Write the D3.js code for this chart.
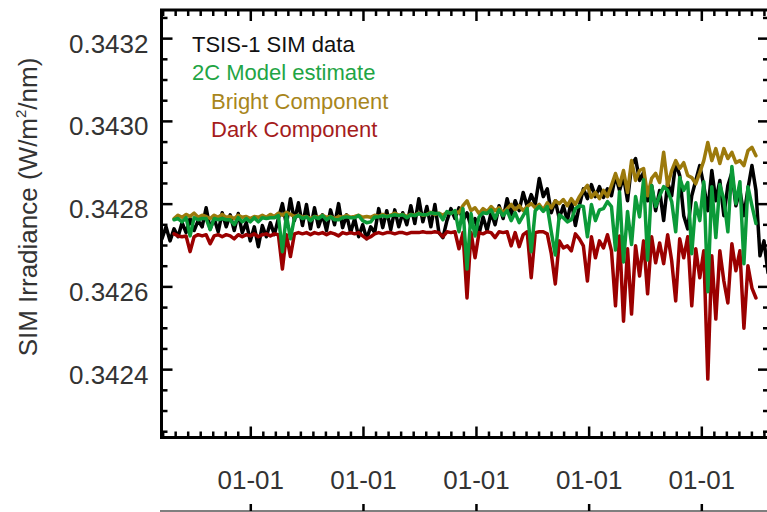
<!DOCTYPE html>
<html>
<head>
<meta charset="utf-8">
<script src="https://cdn.jsdelivr.net/npm/d3@7"></script>
<style>
  html, body { margin: 0; padding: 0; background: #fff; }
  svg { display: block; font-family: "Liberation Sans", Arial, Helvetica, sans-serif; }
</style>
</head>
<body>
<svg id="chart" width="767" height="512"></svg>
<script>
// ---- data -------------------------------------------------------------
// Samples are spaced stepDays apart, starting at startDate.
const startDate = Date.UTC(2018, 2, 21);
const stepDays = 13;

// TSIS-1 SIM irradiance (W/m^2/nm)
const tsisData = [
  0.342715, 0.342744, 0.342710, 0.342739, 0.342720, 0.342754, 0.342730, 0.342764, 0.342735, 0.342759,
  0.342744, 0.342790, 0.342739, 0.342764, 0.342732, 0.342778, 0.342744, 0.342773, 0.342735, 0.342776,
  0.342730, 0.342754, 0.342710, 0.342744, 0.342696, 0.342747, 0.342720, 0.342754, 0.342725, 0.342764,
  0.342800, 0.342749, 0.342812, 0.342759, 0.342802, 0.342747, 0.342798, 0.342739, 0.342790, 0.342744,
  0.342773, 0.342735, 0.342785, 0.342749, 0.342800, 0.342742, 0.342773, 0.342730, 0.342764, 0.342720,
  0.342749, 0.342715, 0.342744, 0.342730, 0.342788, 0.342742, 0.342783, 0.342737, 0.342785, 0.342744,
  0.342778, 0.342749, 0.342795, 0.342752, 0.342812, 0.342756, 0.342793, 0.342744, 0.342798, 0.342730,
  0.342718, 0.342759, 0.342788, 0.342764, 0.342790, 0.342759, 0.342778, 0.342744, 0.342764, 0.342727,
  0.342768, 0.342735, 0.342778, 0.342749, 0.342795, 0.342764, 0.342812, 0.342773, 0.342807, 0.342783,
  0.342827, 0.342793, 0.342822, 0.342798, 0.342861, 0.342817, 0.342836, 0.342778, 0.342807, 0.342764,
  0.342795, 0.342759, 0.342807, 0.342747, 0.342795, 0.342836, 0.342812, 0.342846, 0.342817, 0.342841,
  0.342815, 0.342836, 0.342819, 0.342868, 0.342832, 0.342865, 0.342807, 0.342892, 0.342909, 0.342856,
  0.342875, 0.342807, 0.342844, 0.342783, 0.342832, 0.342759, 0.342851, 0.342819, 0.342899, 0.342868,
  0.342771, 0.342739, 0.342819, 0.342856, 0.342892, 0.342844, 0.342783, 0.342880, 0.342807, 0.342856,
  0.342771, 0.342844, 0.342875, 0.342795, 0.342832, 0.342771, 0.342836, 0.342892, 0.342832, 0.342674,
  0.342710, 0.342633
];

// The two-component model begins at this sample index
const modelStart = 3;

// 2C model estimate
const modelEstimate = [
  0.342761, 0.342764, 0.342756, 0.342766, 0.342722, 0.342766, 0.342761, 0.342764, 0.342764, 0.342737,
  0.342764, 0.342761, 0.342764, 0.342761, 0.342761, 0.342749, 0.342766, 0.342756, 0.342764, 0.342756,
  0.342766, 0.342756, 0.342766, 0.342764, 0.342766, 0.342766, 0.342771, 0.342684, 0.342773, 0.342715,
  0.342766, 0.342771, 0.342764, 0.342768, 0.342759, 0.342768, 0.342764, 0.342771, 0.342761, 0.342768,
  0.342761, 0.342761, 0.342766, 0.342768, 0.342766, 0.342766, 0.342771, 0.342759, 0.342754, 0.342756,
  0.342768, 0.342768, 0.342771, 0.342768, 0.342771, 0.342773, 0.342771, 0.342773, 0.342766, 0.342773,
  0.342771, 0.342776, 0.342773, 0.342773, 0.342778, 0.342776, 0.342776, 0.342761, 0.342781, 0.342776,
  0.342783, 0.342732, 0.342788, 0.342642, 0.342776, 0.342722, 0.342768, 0.342778, 0.342776, 0.342785,
  0.342764, 0.342785, 0.342771, 0.342783, 0.342759, 0.342778, 0.342754, 0.342771, 0.342788, 0.342684,
  0.342783, 0.342793, 0.342781, 0.342793, 0.342732, 0.342676, 0.342773, 0.342766, 0.342756, 0.342761,
  0.342788, 0.342795, 0.342793, 0.342720, 0.342798, 0.342759, 0.342785, 0.342788, 0.342805, 0.342793,
  0.342688, 0.342829, 0.342659, 0.342781, 0.342701, 0.342817, 0.342768, 0.342858, 0.342664, 0.342844,
  0.342793, 0.342819, 0.342841, 0.342832, 0.342805, 0.342732, 0.342863, 0.342832, 0.342851, 0.342679,
  0.342802, 0.342759, 0.342853, 0.342587, 0.342841, 0.342718, 0.342846, 0.342810, 0.342732, 0.342890,
  0.342800, 0.342853, 0.342655, 0.342841, 0.342795, 0.342752
];

// Bright (facular) component
const brightComponent = [
  0.342764, 0.342772, 0.342767, 0.342774, 0.342769, 0.342777, 0.342767, 0.342772, 0.342769, 0.342764,
  0.342772, 0.342767, 0.342774, 0.342767, 0.342769, 0.342764, 0.342772, 0.342767, 0.342769, 0.342764,
  0.342769, 0.342767, 0.342772, 0.342767, 0.342774, 0.342769, 0.342777, 0.342772, 0.342779, 0.342774,
  0.342769, 0.342772, 0.342767, 0.342769, 0.342764, 0.342769, 0.342767, 0.342772, 0.342767, 0.342769,
  0.342764, 0.342769, 0.342767, 0.342772, 0.342767, 0.342769, 0.342772, 0.342767, 0.342769, 0.342767,
  0.342772, 0.342769, 0.342774, 0.342769, 0.342772, 0.342777, 0.342772, 0.342774, 0.342769, 0.342774,
  0.342772, 0.342777, 0.342772, 0.342774, 0.342779, 0.342774, 0.342777, 0.342772, 0.342779, 0.342777,
  0.342781, 0.342778, 0.342795, 0.342807, 0.342783, 0.342790, 0.342776, 0.342788, 0.342781, 0.342793,
  0.342783, 0.342790, 0.342778, 0.342788, 0.342798, 0.342785, 0.342795, 0.342783, 0.342793, 0.342800,
  0.342790, 0.342798, 0.342785, 0.342802, 0.342790, 0.342807, 0.342800, 0.342810, 0.342795, 0.342812,
  0.342798, 0.342817, 0.342832, 0.342844, 0.342815, 0.342827, 0.342812, 0.342832, 0.342817, 0.342844,
  0.342873, 0.342844, 0.342880, 0.342827, 0.342904, 0.342856, 0.342880, 0.342885, 0.342819, 0.342861,
  0.342873, 0.342851, 0.342924, 0.342844, 0.342880, 0.342904, 0.342885, 0.342899, 0.342868, 0.342863,
  0.342848, 0.342875, 0.342904, 0.342948, 0.342904, 0.342933, 0.342897, 0.342933, 0.342909, 0.342924,
  0.342899, 0.342904, 0.342892, 0.342928, 0.342936, 0.342916
];

// Dark (sunspot) component
const darkComponent = [
  0.342727, 0.342722, 0.342720, 0.342722, 0.342684, 0.342720, 0.342725, 0.342722, 0.342725, 0.342703,
  0.342722, 0.342725, 0.342720, 0.342725, 0.342722, 0.342715, 0.342725, 0.342720, 0.342725, 0.342722,
  0.342727, 0.342720, 0.342725, 0.342727, 0.342722, 0.342727, 0.342725, 0.342642, 0.342725, 0.342672,
  0.342727, 0.342730, 0.342727, 0.342730, 0.342725, 0.342730, 0.342727, 0.342730, 0.342725, 0.342730,
  0.342727, 0.342722, 0.342730, 0.342727, 0.342730, 0.342727, 0.342730, 0.342722, 0.342715, 0.342720,
  0.342727, 0.342730, 0.342727, 0.342730, 0.342730, 0.342727, 0.342730, 0.342730, 0.342727, 0.342730,
  0.342730, 0.342730, 0.342732, 0.342730, 0.342730, 0.342732, 0.342730, 0.342720, 0.342732, 0.342730,
  0.342732, 0.342691, 0.342730, 0.342572, 0.342730, 0.342669, 0.342730, 0.342727, 0.342732, 0.342730,
  0.342718, 0.342732, 0.342730, 0.342732, 0.342698, 0.342730, 0.342696, 0.342725, 0.342732, 0.342621,
  0.342730, 0.342732, 0.342732, 0.342727, 0.342679, 0.342606, 0.342710, 0.342693, 0.342698, 0.342686,
  0.342727, 0.342715, 0.342698, 0.342613, 0.342720, 0.342669, 0.342710, 0.342693, 0.342725, 0.342686,
  0.342553, 0.342722, 0.342516, 0.342691, 0.342533, 0.342698, 0.342625, 0.342710, 0.342582, 0.342720,
  0.342657, 0.342705, 0.342655, 0.342725, 0.342662, 0.342565, 0.342715, 0.342669, 0.342720, 0.342553,
  0.342691, 0.342621, 0.342686, 0.342376, 0.342674, 0.342521, 0.342686, 0.342613, 0.342560, 0.342703,
  0.342638, 0.342686, 0.342499, 0.342650, 0.342596, 0.342572
];

// Axis ticks and labels
const yTickValues = [0.3424, 0.3426, 0.3428, 0.3430, 0.3432];
const yTickLabels = ["0.3424", "0.3426", "0.3428", "0.3430", "0.3432"];
const xTickYears = [2019, 2020, 2021, 2022, 2023];
const xTickLabel = "01-01";
const yTitle = ["SIM Irradiance (W/m", "2", "/nm)"];

const legendLabels = ["TSIS-1 SIM data", "2C Model estimate", "Bright Component", "Dark Component"];
const legendColors = ["#111111", "#1fa545", "#a8861c", "#a51c1c"];
const legendIndent = [0, 0, 1, 1];

// ---- layout -----------------------------------------------------------
const plot = { left: 161.5, right: 769, top: 10, bottom: 437.5 };
const colors = { data: "#000000", model: "#0b9a38", bright: "#9c7a0c", dark: "#9b0000" };

const dates = tsisData.map((_, i) => d3.utcDay.offset(new Date(startDate), i * stepDays));
const seriesOf = vals => vals.map((v, i) => ({ date: dates[i + modelStart], value: v }));

const x = d3.scaleUtc().domain([dates[0], dates[dates.length - 1]]).range([162, 768]);
const y = d3.scaleLinear().domain([0.342236, 0.343268]).range([437, 10]);

const svg = d3.select("#chart");

// clip lines to the plotting frame
svg.append("defs").append("clipPath").attr("id", "plotclip")
  .append("rect")
  .attr("x", plot.left).attr("y", plot.top)
  .attr("width", plot.right - plot.left).attr("height", plot.bottom - plot.top);

const line = d3.line()
  .x(d => x(d.date))
  .y(d => y(d.value))
  .curve(d3.curveLinear);

const lines = svg.append("g").attr("clip-path", "url(#plotclip)")
  .attr("fill", "none")
  .attr("stroke-width", 3.5)
  .attr("stroke-linejoin", "round")
  .attr("stroke-linecap", "round");

lines.append("path")
  .datum(tsisData.map((v, i) => ({ date: dates[i], value: v })))
  .attr("stroke", colors.data).attr("d", line);
lines.append("path").datum(seriesOf(brightComponent))
  .attr("stroke", colors.bright).attr("d", line);
lines.append("path").datum(seriesOf(darkComponent))
  .attr("stroke", colors.dark).attr("d", line);
lines.append("path").datum(seriesOf(modelEstimate))
  .attr("stroke", colors.model).attr("d", line);

// ---- ticks ------------------------------------------------------------
const yMinor = d3.range(0, 21).map(k => +(0.34225 + k * 0.00005).toFixed(5))
  .filter(v => !yTickValues.some(t => Math.abs(t - v) < 1e-9));

const xMajor = xTickYears.map(yr => new Date(Date.UTC(yr, 0, 1)));
const xMinor = [];
for (let yr = 2018; yr <= 2023; yr++) {
  const a = Date.UTC(yr, 0, 1), b = Date.UTC(yr + 1, 0, 1);
  for (let k = 1; k < 9; k++) {
    const t = new Date(a + (b - a) * k / 9);
    if (t >= x.domain()[0] && t <= x.domain()[1]) xMinor.push(t);
  }
}

function styleAxis(g) {
  g.select(".domain").remove();
  g.selectAll(".tick line").attr("stroke", "#000").attr("stroke-width", 2.5);
  g.selectAll(".tick text")
    .attr("fill", "#333")
    .attr("font-family", "'Liberation Sans', Arial, sans-serif");
}

// left
svg.append("g").attr("transform", `translate(${plot.left},0)`)
  .call(d3.axisLeft(y).tickValues(yMinor).tickSize(-6).tickFormat(""))
  .call(styleAxis);
svg.append("g").attr("transform", `translate(${plot.left},0)`)
  .call(d3.axisLeft(y).tickValues(yTickValues).tickSize(-11).tickPadding(13)
    .tickFormat((d, i) => yTickLabels[i]))
  .call(styleAxis)
  .call(g => g.selectAll(".tick text").attr("font-size", 26).attr("dy", "0.54em"));

// right
svg.append("g").attr("transform", `translate(${plot.right},0)`)
  .call(d3.axisRight(y).tickValues(yMinor).tickSize(-6).tickFormat(""))
  .call(styleAxis);
svg.append("g").attr("transform", `translate(${plot.right},0)`)
  .call(d3.axisRight(y).tickValues(yTickValues).tickSize(-11).tickFormat(""))
  .call(styleAxis);

// top
svg.append("g").attr("transform", `translate(0,${plot.top})`)
  .call(d3.axisTop(x).tickValues(xMinor).tickSize(-6).tickFormat(""))
  .call(styleAxis);
svg.append("g").attr("transform", `translate(0,${plot.top})`)
  .call(d3.axisTop(x).tickValues(xMajor).tickSize(-11).tickFormat(""))
  .call(styleAxis);

// bottom
svg.append("g").attr("transform", `translate(0,${plot.bottom})`)
  .call(d3.axisBottom(x).tickValues(xMinor).tickSize(-6).tickFormat(""))
  .call(styleAxis);
svg.append("g").attr("transform", `translate(0,${plot.bottom})`)
  .call(d3.axisBottom(x).tickValues(xMajor).tickSize(-11).tickPadding(33)
    .tickFormat(() => xTickLabel))
  .call(styleAxis)
  .call(g => g.selectAll(".tick text").attr("font-size", 26));

// frame
svg.append("rect")
  .attr("x", plot.left).attr("y", plot.top)
  .attr("width", plot.right - plot.left).attr("height", plot.bottom - plot.top)
  .attr("fill", "none").attr("stroke", "#000").attr("stroke-width", 3);

// axis of the panel below
const lower = svg.append("g").attr("transform", "translate(0,511)")
  .call(d3.axisTop(x).tickValues(xMajor).tickSize(7).tickSizeOuter(0).tickFormat(""));
lower.select(".domain").attr("stroke", "#555").attr("stroke-width", 1.5)
  .attr("d", `M160,0H767`);
lower.selectAll(".tick line").attr("stroke", "#000").attr("stroke-width", 2.5);

// ---- y title ----------------------------------------------------------
const title = svg.append("text")
  .attr("transform", "translate(37,207) rotate(-90)")
  .attr("text-anchor", "middle")
  .attr("font-size", 26)
  .attr("fill", "#333");
title.append("tspan").text(yTitle[0]);
title.append("tspan").attr("font-size", 15).attr("dy", -11).text(yTitle[1]);
title.append("tspan").attr("dy", 11).text(yTitle[2]);

// ---- legend -----------------------------------------------------------
svg.append("g").selectAll("text")
  .data(legendLabels)
  .join("text")
  .attr("x", (d, i) => 192 + legendIndent[i] * 19)
  .attr("y", (d, i) => 52 + i * 28.3)
  .attr("font-size", 22)
  .attr("fill", (d, i) => legendColors[i])
  .text(d => d);
</script>
</body>
</html>
